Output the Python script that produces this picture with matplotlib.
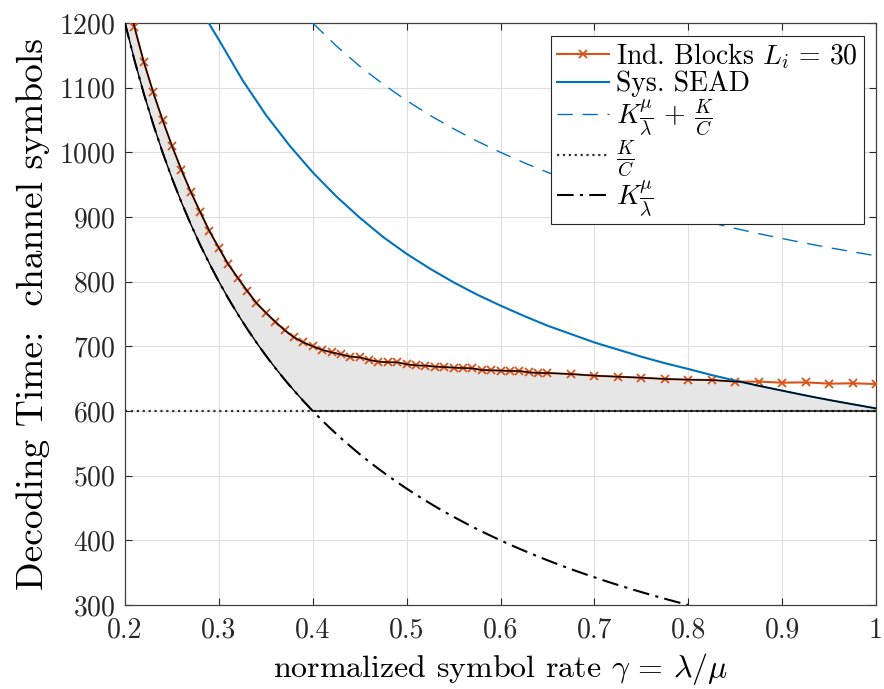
import numpy as np
import matplotlib
matplotlib.use("Agg")
import matplotlib.pyplot as plt

plt.rcParams['font.family'] = ['cmr10', 'DejaVu Serif']
plt.rcParams['mathtext.fontset'] = 'cm'
plt.rcParams['axes.formatter.use_mathtext'] = True
plt.rcParams['axes.unicode_minus'] = False

# ---------------- data ----------------
ind_x = [0.20, 0.21, 0.22, 0.23, 0.24, 0.25, 0.26, 0.27, 0.28, 0.29, 0.30,
         0.31, 0.32, 0.33, 0.34, 0.35, 0.36, 0.37, 0.38, 0.39, 0.40,
         0.41, 0.42, 0.43, 0.44, 0.45, 0.46, 0.47, 0.48, 0.49, 0.50,
         0.51, 0.52, 0.53, 0.54, 0.55, 0.56, 0.57, 0.58, 0.59, 0.60,
         0.61, 0.62, 0.63, 0.64, 0.65, 0.675, 0.70, 0.725, 0.75, 0.775,
         0.80, 0.825, 0.85, 0.875, 0.90, 0.925, 0.95, 0.975, 1.00]
ind_y = [1250, 1194, 1140, 1093, 1050, 1010, 973, 939, 908, 878, 852,
         827, 806, 786, 767, 752, 738, 725, 714, 706, 700,
         694.5, 690.7, 687.6, 684, 683, 679, 676.3, 675.3, 675.3, 672.2,
         670.6, 670.1, 668.6, 668, 667, 666.5, 666, 663.4, 662.9, 662.4,
         661.9, 661.9, 659.8, 658.8, 658.8, 657.2, 654.6, 653.1, 651.5, 649.5,
         648.4, 647.9, 645.4, 645.4, 643.8, 644.3, 642.3, 642.8, 641.8]

sead_x = [0.28, 0.30, 0.325, 0.35, 0.375, 0.40, 0.425, 0.45, 0.475, 0.50,
          0.525, 0.55, 0.575, 0.60, 0.625, 0.65, 0.675, 0.70, 0.725, 0.75,
          0.775, 0.80, 0.825, 0.85, 0.875, 0.90, 0.925, 0.95, 0.975, 1.00]
sead_y = [1222, 1174, 1112, 1058, 1011, 969, 932, 899, 869, 843,
          820, 799, 780, 763, 747, 732, 719, 706, 695, 684,
          674, 665, 655.5, 647, 639, 631.5, 624, 617, 610.5, 604]

sum_x = [0.40, 0.425, 0.45, 0.475, 0.50, 0.525, 0.55, 0.575, 0.60, 0.625,
         0.65, 0.675, 0.70, 0.725, 0.75, 0.775, 0.80, 0.825, 0.85, 0.875,
         0.90, 0.925, 0.95, 0.975, 1.00]
sum_y = [1200, 1164.7, 1133.3, 1105.3, 1080, 1057.1, 1036.4, 1017.4, 1000, 984,
         969.2, 955.6, 942.9, 931, 920, 909.7, 900, 890.9, 882.4, 874.3,
         866.7, 859.5, 852.6, 846.2, 840]

kc_x = [0.2, 1.0]
kc_y = [600, 600]

kml_x = [0.20, 0.21, 0.22, 0.23, 0.24, 0.25, 0.26, 0.27, 0.28, 0.29, 0.30,
         0.31, 0.32, 0.33, 0.34, 0.35, 0.36, 0.37, 0.38, 0.39, 0.40,
         0.41, 0.42, 0.43, 0.44, 0.45, 0.46, 0.47, 0.48, 0.49, 0.50,
         0.51, 0.52, 0.53, 0.54, 0.55, 0.56, 0.57, 0.58, 0.59, 0.60,
         0.61, 0.62, 0.63, 0.64, 0.65, 0.66, 0.67, 0.68, 0.69, 0.70,
         0.71, 0.72, 0.73, 0.74, 0.75, 0.76, 0.77, 0.78, 0.79, 0.80]
kml_y = [1200, 1142.9, 1090.9, 1043.5, 1000, 960, 923.1, 888.9, 857.1, 827.6, 800,
         774.2, 750, 727.3, 705.9, 685.7, 666.7, 648.6, 631.6, 615.4, 600,
         585.4, 571.4, 558.1, 545.5, 533.3, 521.7, 510.6, 500, 489.8, 480,
         470.6, 461.5, 452.8, 444.4, 436.4, 428.6, 421.1, 413.8, 406.8, 400,
         393.4, 387.1, 381, 375, 369.2, 363.6, 358.2, 352.9, 347.8, 342.9,
         338, 333.3, 328.8, 324.3, 320, 315.8, 311.7, 307.7, 303.8, 300]

labels = [r'Ind. Blocks $L_i\,=\,30$', 'Sys. SEAD',
          r'$K\frac{\mu}{\lambda}\,+\,\frac{K}{C}$', r'$\frac{K}{C}$',
          r'$K\frac{\mu}{\lambda}$']

ORANGE = '#D95319'
BLUE = '#0072BD'

# ---------------- figure ----------------
fig = plt.figure(figsize=(8.84, 6.89), dpi=100)
ax = fig.add_axes([125/884, 1-605/689, (876-125)/884, (605-23)/689])

# shaded region between bounds
grid = np.union1d(np.union1d(ind_x, sead_x), kml_x)
grid = grid[(grid >= 0.2) & (grid <= 1.0)]
grid = np.union1d(grid, np.linspace(0.2, 1.0, 801))
up_ind = np.interp(grid, ind_x, ind_y)
up_sead = np.interp(grid, sead_x, sead_y, left=np.inf)
upper = np.minimum(up_ind, up_sead)
lower = np.maximum(np.interp(grid, kml_x, kml_y, right=0), 600)
ax.fill_between(grid, lower, upper, color='#e6e6e6', lw=0, zorder=1)

l1, = ax.plot(ind_x, ind_y, '-x', color=ORANGE, lw=1.5, ms=5.5, mew=1.3, zorder=3)
l2, = ax.plot(sead_x, sead_y, '-', color=BLUE, lw=1.5, zorder=3)
l3, = ax.plot(sum_x, sum_y, '--', color=BLUE, lw=1.0, dashes=(11, 7), zorder=3)
l4, = ax.plot(kc_x, kc_y, ':', color='#333333', lw=1.6, zorder=3)
l5, = ax.plot(kml_x, kml_y, '-.', color='black', lw=1.5, dashes=(8, 3, 1.5, 3), zorder=3)

# boundary lines of shaded region
ax.plot(grid, upper, '-', color='black', lw=1.0, zorder=4)
ax.plot(grid, lower, '-', color='black', lw=1.0, zorder=4)

ax.set_xlim(0.2, 1.0)
ax.set_ylim(300, 1200)
ax.set_xticks([0.2, 0.3, 0.4, 0.5, 0.6, 0.7, 0.8, 0.9, 1.0])
ax.set_xticklabels(['0.2', '0.3', '0.4', '0.5', '0.6', '0.7', '0.8', '0.9', '1'])
ax.set_yticks(np.arange(300, 1201, 100))
ax.grid(True, color='#dedede', lw=0.8)
ax.set_axisbelow(True)
ax.tick_params(direction='in', top=True, right=True, length=5, width=0.8,
               colors='#262626', labelsize=20, pad=7)
ax.tick_params(axis='x', pad=9)
for s in ax.spines.values():
    s.set_color('#404040')
    s.set_linewidth(0.9)

ax.set_xlabel(r'normalized symbol rate $\gamma\,=\,\lambda/\mu$', fontsize=23, labelpad=5)
ax.set_ylabel('Decoding Time:  channel symbols', fontsize=27, labelpad=6)

leg = ax.legend([l1, l2, l3, l4, l5], labels, loc='upper right', fontsize=20,
                fancybox=False, framealpha=1, edgecolor='#262626',
                borderaxespad=0.45, handlelength=1.9, handletextpad=0.25,
                labelspacing=0.0, borderpad=0.2)
leg.get_frame().set_linewidth(0.8)

fig.savefig('out.png', dpi=100)
